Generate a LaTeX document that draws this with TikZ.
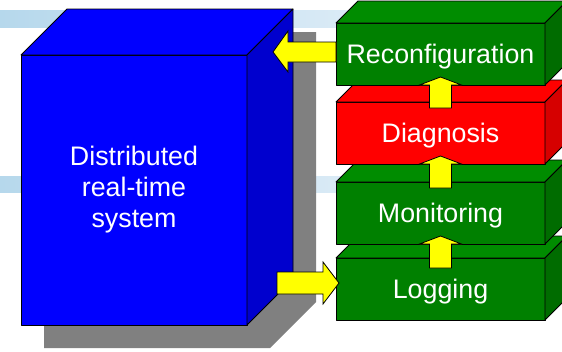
\documentclass[tikz,border=0pt]{standalone}
\usepackage{fontspec}
\setmainfont{Liberation Sans}
\usetikzlibrary{calc}

\definecolor{bandleft}{RGB}{182,216,236}
\definecolor{bandright}{RGB}{240,246,252}
\definecolor{shadowgray}{RGB}{128,128,128}
\definecolor{sysblue}{RGB}{0,0,255}
\definecolor{sysblueside}{RGB}{0,0,206}
\definecolor{stagegreen}{RGB}{0,128,0}
\definecolor{stagegreentop}{RGB}{0,140,0}
\definecolor{stagegreenside}{RGB}{0,108,0}
\definecolor{stagered}{RGB}{255,0,0}
\definecolor{stageredside}{RGB}{214,0,0}
\definecolor{arrowyellow}{RGB}{255,255,0}

\pgfdeclarelayer{back}
\pgfsetlayers{back,main}

% one layer of the stack: front face with its label, then top and side faces
\newcommand\layerbox[6]{%
  \node[stagebox, fill=#3] (#1) at (440.5,#2) {#6};
  \filldraw[face, fill=#4] (#1.north west) -- ++(22,-22)
    -- ($(#1.north east)+(22,-22)$) -- (#1.north east) -- cycle;
  \filldraw[face, fill=#5] (#1.north east) -- ++(22,-22)
    -- ($(#1.south east)+(22,-22)$) -- (#1.south east) -- cycle;
}

% block arrow pointing up from the lower layer into the upper one
\newcommand\uparrowblock[3]{%
  \filldraw[blockarrow] ($(#2.south)+(0,-8)$) -- ($(#2.south)+(21,0)$)
    -- ($(#2.south)+(11,0)$) -- ($(#1.north)+(11,#3)$)
    -- ($(#1.north)+(-11,#3)$) -- ($(#2.south)+(-11,0)$)
    -- ($(#2.south)+(-21,0)$) -- cycle;
}

\begin{document}
\begin{tikzpicture}[x=1pt,y=-1pt,
  face/.style={draw=black, line width=0.8pt, line join=round},
  frontface/.style={face, rectangle, inner sep=0pt, outer sep=0pt,
    text=white, font=\fontsize{26.8}{31}\selectfont},
  stagebox/.style={frontface, minimum width=209pt, minimum height=62pt,
    text height=20pt, text depth=2pt},
  blockarrow/.style={draw=black, line width=0.8pt, fill=arrowyellow,
    line join=miter},
]
\useasboundingbox (0,0) rectangle (562,351);
\clip (0,0) rectangle (562,351);

\begin{pgfonlayer}{back}
  \fill[white] (0,0) rectangle (562,351);
  \shade[left color=bandleft, right color=bandright] (0,10) rectangle (562,27);
  \shade[left color=bandleft, right color=bandright] (0,176) rectangle (562,192);
\end{pgfonlayer}

% the distributed system as a large cube
\node[frontface, fill=sysblue, minimum width=226pt, minimum height=270pt,
  align=center] (dsys) at (134,190) {Distributed\\real-time\\system};
\filldraw[face, fill=sysblue] (dsys.north west) -- ++(46,-46)
  -- ($(dsys.north east)+(46,-46)$) -- (dsys.north east) -- cycle;
\filldraw[face, fill=sysblueside] (dsys.north east) -- ++(46,-46)
  -- ($(dsys.south east)+(46,-46)$) -- (dsys.south east) -- cycle;

\begin{pgfonlayer}{back}
  \fill[shadowgray] ($(dsys.north west)+(23,23)$) -- ++(46,-46)
    -- ($(dsys.north east)+(69,-23)$) -- ($(dsys.south east)+(69,-23)$)
    -- ($(dsys.south east)+(23,23)$) -- ($(dsys.south west)+(23,23)$) -- cycle;
\end{pgfonlayer}

% the stack, drawn from the bottom up
\layerbox{logging}{289}{stagegreen}{stagegreentop}{stagegreenside}{Logging}
\layerbox{monitoring}{213}{stagegreen}{stagegreentop}{stagegreenside}{Monitoring}
\layerbox{diagnosis}{133}{stagered}{stagered}{stageredside}{Diagnosis}
\layerbox{reconf}{54}{stagegreen}{stagegreentop}{stagegreenside}{Reconfiguration}

% arrows between the layers
\uparrowblock{logging}{monitoring}{10}
\uparrowblock{monitoring}{diagnosis}{6}
\uparrowblock{diagnosis}{reconf}{6}

% arrow back into the system
\coordinate (fb) at ($(reconf.west)+(0,-2)$);
\coordinate (fbtip) at ($(dsys.east |- fb)+(26,0)$);
\filldraw[blockarrow] ($(fb)+(0,-10)$) -- ($(fbtip)+(15,-10)$)
  -- ($(fbtip)+(15,-21)$) -- (fbtip) -- ($(fbtip)+(15,20)$)
  -- ($(fbtip)+(15,10)$) -- ($(fb)+(0,10)$) -- cycle;

% arrow from the system into logging
\coordinate (lgtip) at ($(logging.west)+(3,-6)$);
\coordinate (lgstart) at ($(dsys.east |- lgtip)+(30,0)$);
\filldraw[blockarrow] ($(lgstart)+(0,-11)$) -- ($(lgtip)+(-16,-11)$)
  -- ($(lgtip)+(-16,-21)$) -- (lgtip) -- ($(lgtip)+(-16,21)$)
  -- ($(lgtip)+(-16,11)$) -- ($(lgstart)+(0,11)$) -- cycle;
\end{tikzpicture}
\end{document}
